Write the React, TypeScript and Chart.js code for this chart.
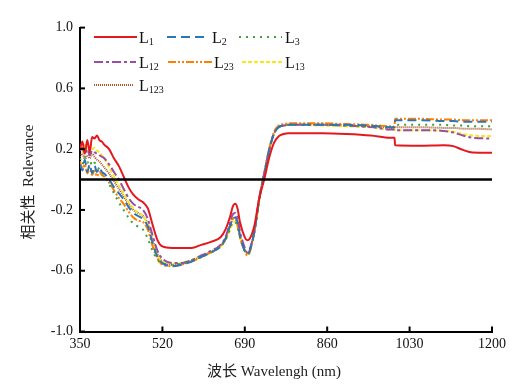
import React, { useEffect, useRef } from "react";
import { Chart, registerables } from "chart.js";
Chart.register(...registerables);

const wavelengths = [350,355,360,365,370,375,380,385,390,395,400,410,420,430,440,450,460,470,480,490,500,510,520,540,560,580,600,620,640,650,660,665,670,675,680,690,695,700,710,720,730,740,750,760,770,780,800,850,900,950,990,999,1000,1050,1100,1120,1140,1160,1200];

const L1 = [0.20,0.25,0.17,0.26,0.18,0.28,0.27,0.29,0.26,0.25,0.23,0.20,0.14,0.09,0.02,-0.05,-0.10,-0.13,-0.15,-0.19,-0.30,-0.40,-0.44,-0.45,-0.45,-0.45,-0.43,-0.41,-0.38,-0.33,-0.24,-0.18,-0.16,-0.19,-0.28,-0.38,-0.40,-0.39,-0.30,-0.12,0.00,0.14,0.24,0.285,0.30,0.305,0.305,0.305,0.30,0.29,0.275,0.275,0.225,0.222,0.225,0.22,0.195,0.178,0.176];
const L2 = [0.10,0.06,0.13,0.05,0.10,0.04,0.09,0.05,0.08,0.05,0.04,0.00,-0.05,-0.09,-0.13,-0.18,-0.22,-0.24,-0.26,-0.31,-0.42,-0.51,-0.55,-0.57,-0.56,-0.54,-0.51,-0.48,-0.44,-0.39,-0.30,-0.26,-0.25,-0.28,-0.37,-0.47,-0.49,-0.47,-0.34,-0.13,0.03,0.19,0.30,0.345,0.355,0.36,0.36,0.36,0.36,0.355,0.345,0.345,0.39,0.39,0.385,0.385,0.38,0.38,0.38];
const L3 = [0.14,0.10,0.15,0.11,0.13,0.09,0.11,0.08,0.07,0.05,0.03,-0.03,-0.09,-0.15,-0.20,-0.25,-0.29,-0.31,-0.33,-0.39,-0.47,-0.53,-0.55,-0.56,-0.55,-0.53,-0.51,-0.48,-0.44,-0.40,-0.32,-0.28,-0.28,-0.31,-0.38,-0.47,-0.49,-0.47,-0.34,-0.13,0.03,0.19,0.30,0.345,0.355,0.36,0.36,0.36,0.355,0.35,0.345,0.345,0.36,0.36,0.36,0.355,0.355,0.35,0.35];
const L12 = [0.19,0.21,0.17,0.20,0.16,0.19,0.18,0.17,0.16,0.15,0.14,0.10,0.05,0.00,-0.06,-0.12,-0.16,-0.18,-0.20,-0.26,-0.37,-0.47,-0.52,-0.55,-0.55,-0.53,-0.50,-0.47,-0.43,-0.38,-0.28,-0.23,-0.22,-0.25,-0.34,-0.45,-0.48,-0.46,-0.33,-0.12,0.04,0.19,0.30,0.345,0.355,0.36,0.36,0.36,0.355,0.345,0.33,0.33,0.325,0.325,0.32,0.31,0.29,0.275,0.27];
const L23 = [0.12,0.07,0.10,0.04,0.08,0.03,0.06,0.02,0.05,0.03,0.02,-0.02,-0.07,-0.12,-0.16,-0.21,-0.25,-0.27,-0.28,-0.33,-0.44,-0.52,-0.56,-0.57,-0.56,-0.54,-0.51,-0.48,-0.44,-0.39,-0.30,-0.26,-0.26,-0.30,-0.38,-0.47,-0.50,-0.48,-0.34,-0.12,0.04,0.20,0.31,0.355,0.365,0.37,0.37,0.37,0.365,0.36,0.35,0.35,0.40,0.40,0.395,0.395,0.39,0.39,0.39];
const L13 = [0.22,0.18,0.23,0.19,0.22,0.20,0.21,0.19,0.18,0.16,0.14,0.08,0.02,-0.04,-0.09,-0.15,-0.19,-0.22,-0.24,-0.30,-0.41,-0.50,-0.54,-0.55,-0.55,-0.53,-0.51,-0.48,-0.44,-0.40,-0.33,-0.29,-0.28,-0.31,-0.38,-0.46,-0.49,-0.47,-0.34,-0.13,0.03,0.19,0.30,0.345,0.355,0.36,0.36,0.355,0.35,0.345,0.33,0.33,0.325,0.325,0.32,0.315,0.30,0.29,0.285];
const L123 = [0.15,0.17,0.13,0.16,0.14,0.17,0.15,0.13,0.12,0.10,0.08,0.04,-0.01,-0.06,-0.11,-0.16,-0.20,-0.22,-0.24,-0.29,-0.40,-0.49,-0.54,-0.56,-0.555,-0.535,-0.505,-0.475,-0.435,-0.39,-0.30,-0.26,-0.25,-0.28,-0.37,-0.46,-0.49,-0.47,-0.33,-0.12,0.04,0.19,0.30,0.345,0.355,0.36,0.36,0.36,0.355,0.35,0.34,0.34,0.345,0.345,0.34,0.34,0.335,0.335,0.33];

const xTicks = [350, 520, 690, 860, 1030, 1200];
const yTicks = [-1.0, -0.6, -0.2, 0.2, 0.6, 1.0];

const SERIF = "'Liberation Serif', 'Times New Roman', 'Noto Sans CJK SC', serif";

type S = { sub: string; data: number[]; color: string; dash: number[]; width: number; lx: number; lx2: number; tx: number; ty: number };

const series: S[] = [
  { sub: "1", data: L1, color: "#e3191f", dash: [], width: 2, lx: 86, lx2: 129, tx: 131, ty: 29 },
  { sub: "2", data: L2, color: "#2e75b6", dash: [9, 5], width: 2, lx: 159, lx2: 200, tx: 204, ty: 29 },
  { sub: "3", data: L3, color: "#3aa33a", dash: [2, 5], width: 2, lx: 231, lx2: 274, tx: 277, ty: 29 },
  { sub: "12", data: L12, color: "#984ea3", dash: [9, 3, 3, 3], width: 2, lx: 86, lx2: 128, tx: 131, ty: 54 },
  { sub: "23", data: L23, color: "#ff7f00", dash: [8, 2, 2, 2, 2, 2], width: 2, lx: 160, lx2: 204, tx: 206, ty: 54 },
  { sub: "13", data: L13, color: "#f7e81e", dash: [4, 2], width: 2, lx: 234, lx2: 274, tx: 277, ty: 54 },
  { sub: "123", data: L123, color: "#a65628", dash: [1, 1], width: 2, lx: 86, lx2: 126, tx: 131, ty: 77 },
];

const decor = {
  id: "decor",
  afterDatasetsDraw(chart: any) {
    const ctx = chart.ctx;
    const xs = chart.scales.x;
    const ys = chart.scales.y;
    const { left, right, top, bottom } = chart.chartArea;
    ctx.save();
    // zero line
    const y0 = ys.getPixelForValue(0);
    ctx.strokeStyle = "#000";
    ctx.lineWidth = 2.5;
    ctx.setLineDash([]);
    ctx.beginPath();
    ctx.moveTo(left, y0);
    ctx.lineTo(right, y0);
    ctx.stroke();
    // inward ticks
    ctx.lineWidth = 2;
    yTicks.forEach((v) => {
      const p = ys.getPixelForValue(v);
      ctx.beginPath();
      ctx.moveTo(left, p);
      ctx.lineTo(left + 5, p);
      ctx.stroke();
    });
    xTicks.forEach((v) => {
      const p = xs.getPixelForValue(v);
      ctx.beginPath();
      ctx.moveTo(p, bottom);
      ctx.lineTo(p, bottom - 5);
      ctx.stroke();
    });
    // legend
    series.forEach((s) => {
      ctx.strokeStyle = s.color;
      ctx.lineWidth = 2;
      ctx.setLineDash(s.dash);
      ctx.beginPath();
      ctx.moveTo(s.lx, s.ty);
      ctx.lineTo(s.lx2, s.ty);
      ctx.stroke();
      ctx.setLineDash([]);
      ctx.fillStyle = "#111";
      ctx.textAlign = "left";
      ctx.textBaseline = "alphabetic";
      ctx.font = `16px ${SERIF}`;
      ctx.fillText("L", s.tx, s.ty + 6);
      const w = ctx.measureText("L").width;
      ctx.font = `10px ${SERIF}`;
      ctx.fillText(s.sub, s.tx + w, s.ty + 7.5);
    });
    // axis titles
    ctx.fillStyle = "#222";
    ctx.font = `15px ${SERIF}`;
    ctx.textAlign = "center";
    ctx.textBaseline = "middle";
    ctx.fillText("波长 Wavelengh (nm)", 266, 364);
    ctx.translate(21, 174);
    ctx.rotate(-Math.PI / 2);
    ctx.fillText("相关性  Relevance", 0, 0);
    ctx.restore();
  },
};

export default function App() {
  const ref = useRef<HTMLCanvasElement | null>(null);
  useEffect(() => {
    if (!ref.current) return;
    const chart = new Chart(ref.current, {
      type: "line",
      data: {
        labels: wavelengths,
        datasets: series.map((s) => ({
          label: "L" + s.sub,
          data: s.data.map((v, i) => ({ x: wavelengths[i], y: v })),
          borderColor: s.color,
          backgroundColor: s.color,
          borderDash: s.dash,
          borderWidth: s.width,
          pointRadius: 0,
          fill: false,
          cubicInterpolationMode: "monotone" as const,
        })),
      },
      options: {
        animation: false,
        responsive: false,
        maintainAspectRatio: false,
        layout: { padding: { top: 19.6, right: 22, left: 0, bottom: 0 } },
        plugins: { legend: { display: false }, tooltip: { enabled: false } },
        scales: {
          x: {
            type: "linear",
            min: 350,
            max: 1200,
            afterBuildTicks: (sc: any) => { sc.ticks = xTicks.map((v) => ({ value: v })); },
            afterFit: (sc: any) => { sc.height = 52.5; },
            grid: { display: false, drawTicks: false },
            border: { display: true, color: "#000", width: 2 },
            ticks: { color: "#111", padding: 4, font: { family: SERIF, size: 14 }, maxRotation: 0, callback: (v: any) => String(v) },
          },
          y: {
            type: "linear",
            min: -1,
            max: 1,
            afterBuildTicks: (sc: any) => { sc.ticks = yTicks.map((v) => ({ value: v })); },
            afterFit: (sc: any) => { sc.width = 72; },
            grid: { display: false, drawTicks: false },
            border: { display: true, color: "#000", width: 2 },
            ticks: { color: "#111", padding: 7, font: { family: SERIF, size: 14 }, callback: (v: any) => Number(v).toFixed(1) },
          },
        },
      },
      plugins: [decor],
    });
    return () => chart.destroy();
  }, []);
  return (
    <div style={{ width: 506, height: 376 }}>
      <canvas ref={ref} width={506} height={376} style={{ display: "block" }} />
    </div>
  );
}
